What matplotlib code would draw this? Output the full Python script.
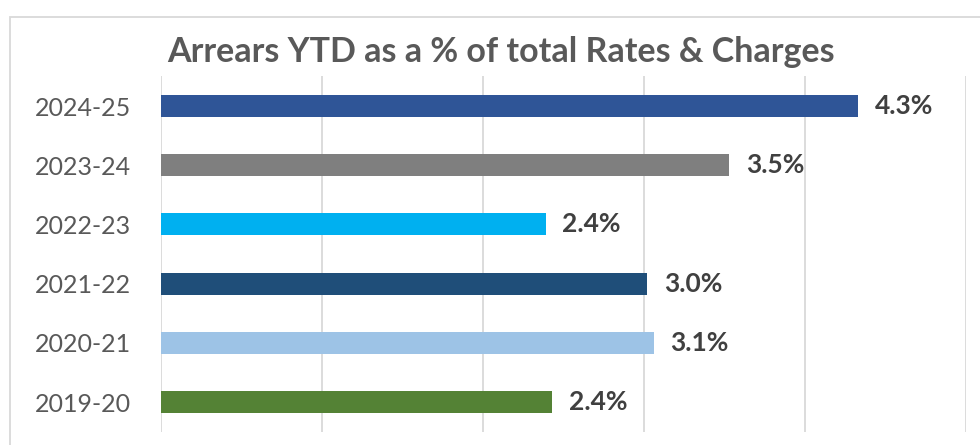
import matplotlib
matplotlib.use("Agg")
import matplotlib.pyplot as plt
from matplotlib.patches import Rectangle

plt.rcParams["font.family"] = ["Lato", "DejaVu Sans"]

# data, top to bottom as in the chart
years = ["2024-25", "2023-24", "2022-23", "2021-22", "2020-21", "2019-20"]
values = [4.33, 3.53, 2.39, 3.02, 3.06, 2.43]
labels = ["4.3%", "3.5%", "2.4%", "3.0%", "3.1%", "2.4%"]
colors = ["#2F5597", "#7F7F7F", "#00B0F0", "#1F4E79", "#9DC3E6", "#548235"]

fig = plt.figure(figsize=(9.8, 4.45), dpi=100, facecolor="white")
ax = fig.add_axes([0.1639, 0.0301, 0.8218, 0.7982])

ypos = list(range(len(years)))
ax.barh(ypos, values, height=0.37, color=colors, zorder=3)
ax.set_ylim(len(years) - 0.5, -0.5)
ax.set_xlim(0, 5)
ax.set_yticks(ypos)
ax.set_yticklabels(years, fontsize=18, color="#595959")
ax.set_xticks([0, 1, 2, 3, 4, 5])
ax.set_xticklabels([])
ax.tick_params(length=0, pad=21.5)
ax.grid(axis="x", color="#D9D9D9", linewidth=1.3, zorder=0)
for s in ax.spines.values():
    s.set_visible(False)

for y, v, t in zip(ypos, values, labels):
    ax.annotate(t, (v, y), xytext=(12, 0), textcoords="offset points",
                va="center", ha="left", fontsize=19, fontweight="bold",
                color="#404040")

fig.text(0.511, 0.883, "Arrears YTD as a % of total Rates & Charges",
         ha="center", va="center", fontsize=24.5, fontweight="bold",
         color="#595959")

# chart area border
fig.patches.append(Rectangle((10 / 980, -0.1), 1.2, (445 - 17) / 445 + 0.1,
                             transform=fig.transFigure, fill=False,
                             edgecolor="#D9D9D9", linewidth=1.3))

fig.savefig("out.png", dpi=100)
